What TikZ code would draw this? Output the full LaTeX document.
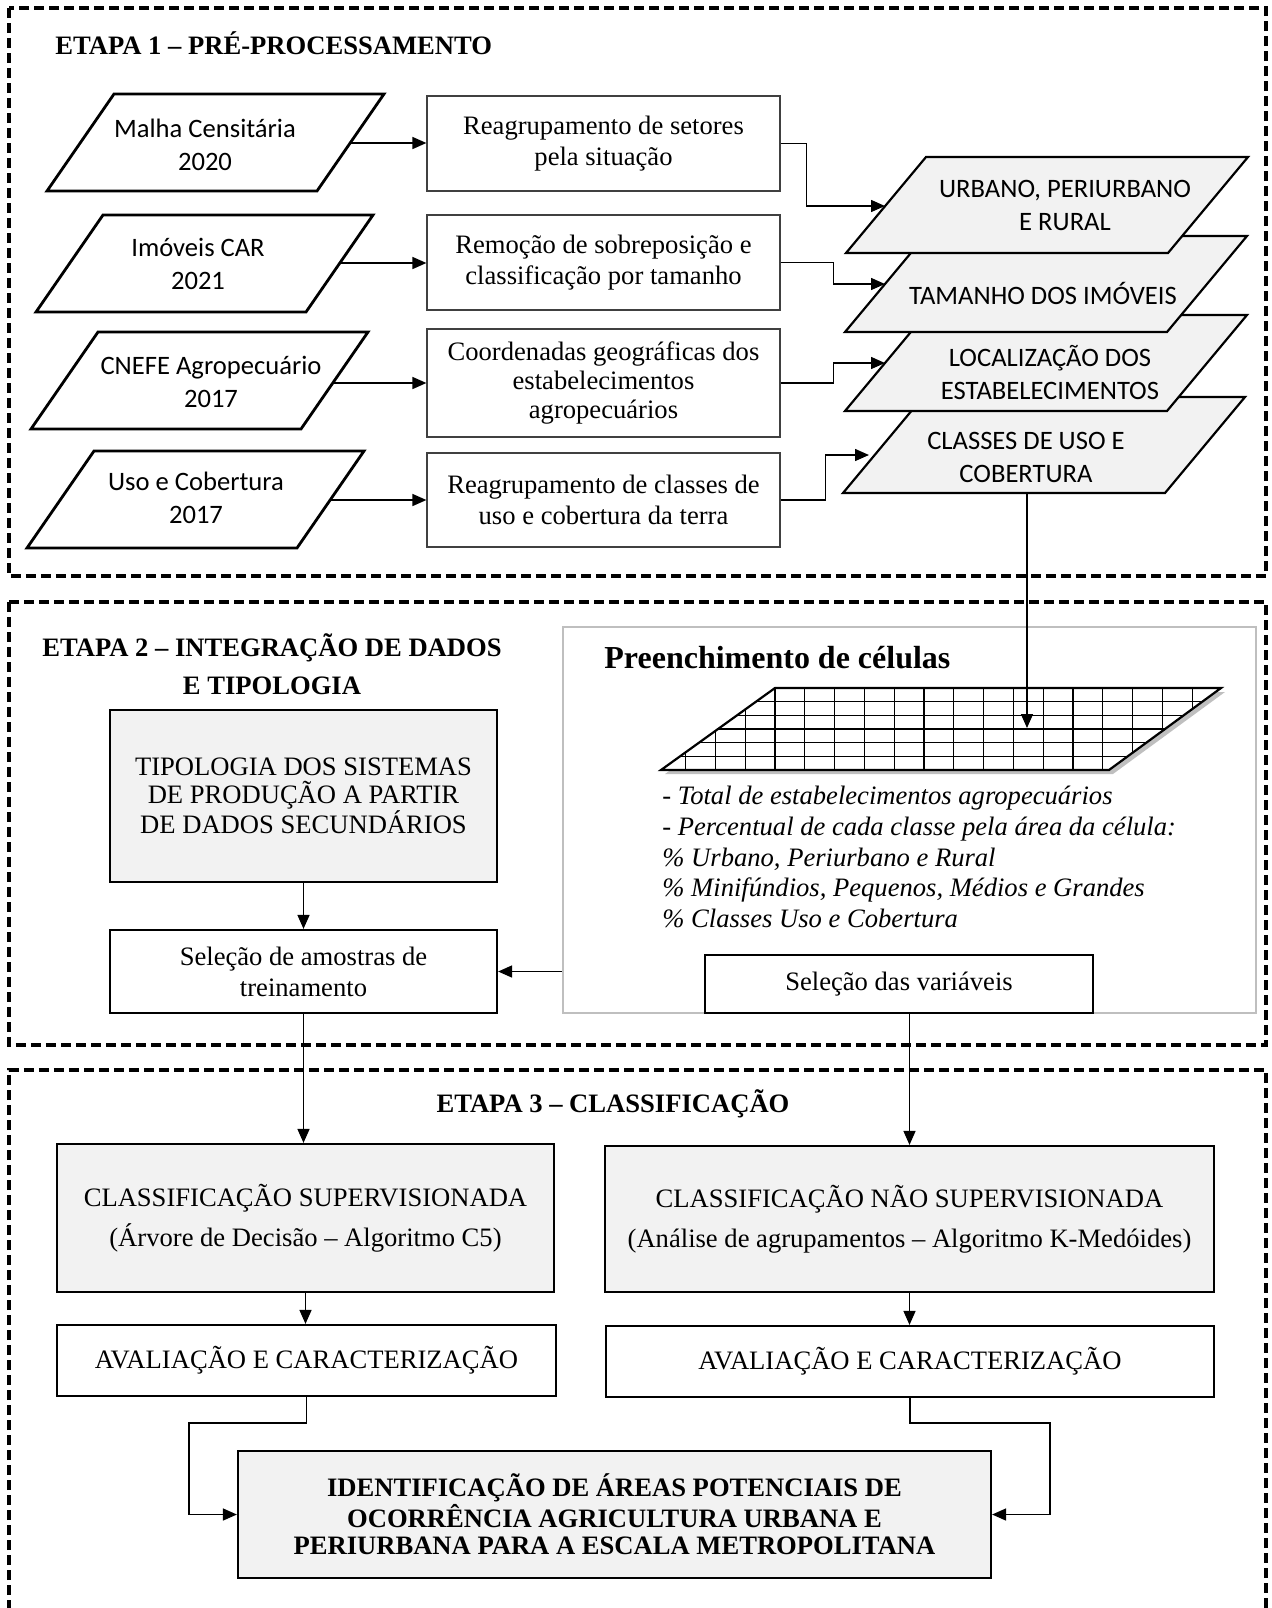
\documentclass[tikz,border=0pt]{standalone}
\usepackage{fontspec}
\setmainfont{Liberation Serif}
\newfontfamily\calibri{Carlito}
\usetikzlibrary{arrows.meta, calc, shadows}
\definecolor{planefill}{HTML}{F2F2F2}

\begin{document}
\begin{tikzpicture}[x=0.5pt, y=-0.5pt,
    every node/.style={font=\fontsize{13.3}{15.4}\selectfont, inner sep=0pt},
    stagebox/.style={line width=1.6pt, dash pattern=on 5pt off 2.5pt},
    stagetitle/.style={font=\fontsize{13.3}{19}\selectfont\bfseries},
    sourceplane/.style={draw, line width=1.4pt, fill=white},
    dataplane/.style={draw, line width=1.1pt, fill=planefill},
    sanstext/.style={font=\fontsize{13.3}{16.5}\selectfont\calibri, align=center},
    procbox/.style={draw=black!75, line width=0.6pt, align=center, minimum width=176.5pt},
    flowbox/.style={draw, line width=1.1pt, align=center},
    greybox/.style={flowbox, fill=planefill},
    flowarrow/.style={line width=0.75pt, -{Triangle[length=7pt, width=6pt]}},
    gridline/.style={line width=0.6pt}
    ]
    \useasboundingbox (0,0) rectangle (1272,1608);

    \draw[stagebox] (9,8) rectangle (1266,576);
    \draw[stagebox] (9,602) rectangle (1266,1045);
    \draw[stagebox] (9,1640) -- (9,1070) -- (1266,1070) -- (1266,1640);

    \node[stagetitle, anchor=west] (etapa1) at (55,43) {ETAPA 1 – PRÉ-PROCESSAMENTO};

    \coordinate (malhaBL) at (47,191);
    \coordinate (imovBL) at (36,312);
    \coordinate (cnefeBL) at (31,429);
    \coordinate (usoBL) at (27,548);
    \foreach \c in {malhaBL, imovBL, cnefeBL, usoBL}
        \draw[sourceplane] (\c) -- ++(270,0) -- ++(67,-97) -- ++(-270,0) -- cycle;

    \node[sanstext] (malha) at (205,145) {Malha Censitária\\2020};
    \node[sanstext] (imov) at (198,264) {Imóveis CAR\\2021};
    \node[sanstext] (cnefe) at (211,382) {CNEFE Agropecuário\\2017};
    \node[sanstext] (uso) at (196,498) {Uso e Cobertura\\2017};

    \coordinate (malhaout) at (350,143);
    \coordinate (imovout) at (340,263);
    \coordinate (cnefeout) at (333,383);
    \coordinate (usoout) at (330,500);

    \node[procbox, minimum height=47.5pt] (reag) at (603.5,143.5) {Reagrupamento de setores\\pela situação};
    \node[procbox, minimum height=47.5pt] (remo) at (603.5,262.5) {Remoção de sobreposição e\\classificação por tamanho};
    \node[procbox, minimum height=54pt, font=\fontsize{13.3}{14.3}\selectfont] (coord) at (603.5,383) {Coordenadas geográficas dos\\estabelecimentos\\agropecuários};
    \node[procbox, minimum height=47pt] (reclass) at (603.5,500) {Reagrupamento de classes de\\uso e cobertura da terra};

    \draw[flowarrow] (malhaout) -- (malhaout -| reag.west);
    \draw[flowarrow] (imovout) -- (imovout -| remo.west);
    \draw[flowarrow] (cnefeout) -- (cnefeout -| coord.west);
    \draw[flowarrow] (usoout) -- (usoout -| reclass.west);

    \coordinate (clsBL) at (843,493);
    \coordinate (locBL) at (845,411);
    \coordinate (tamBL) at (845,332);
    \coordinate (urbBL) at (846,253);
    \foreach \c in {clsBL, locBL, tamBL, urbBL}
        \draw[dataplane] (\c) -- ++(322,0) -- ++(80,-96) -- ++(-322,0) -- cycle;

    \node[sanstext] (urb) at (1065,205) {URBANO, PERIURBANO\\E RURAL};
    \node[sanstext] (tam) at (1043,293) {TAMANHO DOS IMÓVEIS};
    \node[sanstext] (loc) at (1050,372) {LOCALIZAÇÃO DOS\\ESTABELECIMENTOS};
    \node[sanstext] (cls) at (1026,457) {CLASSES DE USO E\\COBERTURA};

    \coordinate (urbin) at (885,206);
    \coordinate (tamin) at (885,284);
    \coordinate (locin) at (885,363);
    \coordinate (clsin) at (869,455);
    \draw[flowarrow] (reag.east) -- ++(26,0) |- (urbin);
    \draw[flowarrow] (remo.east) -- ++(53,0) |- (tamin);
    \draw[flowarrow] (coord.east) -- ++(53,0) |- (locin);
    \draw[flowarrow] (reclass.east) -- ++(45,0) |- (clsin);

    \node[stagetitle, align=center] (etapa2) at (272,664) {ETAPA 2 – INTEGRAÇÃO DE DADOS\\E TIPOLOGIA};
    \node[greybox, minimum width=193.5pt, minimum height=86pt, font=\fontsize{13.3}{13.8}\selectfont] (tipo) at (303.5,796) {TIPOLOGIA DOS SISTEMAS\\DE PRODUÇÃO A PARTIR\\DE DADOS SECUNDÁRIOS};
    \node[flowbox, minimum width=193.5pt, minimum height=41.5pt] (amostra) at (303.5,971.5) {Seleção de amostras de\\treinamento};
    \node[draw=black!25, line width=1.3pt, minimum width=346.5pt, minimum height=193pt] (panel) at (909.5,820) {};
    \node[anchor=west, font=\fontsize{16}{19}\selectfont\bfseries] (preench) at (604,658) {Preenchimento de células};

    \coordinate (gridBL) at (661,770);
    \coordinate (gridBR) at (1109,770);
    \coordinate (gridTR) at (1221,688);
    \coordinate (gridTL) at (775,688);
    \fill[white, drop shadow={shadow xshift=2pt, shadow yshift=-2pt, opacity=0.5}] (gridBL) -- (gridBR) -- (gridTR) -- (gridTL) -- cycle;
    \begin{scope}
        \clip (gridBL) -- (gridBR) -- (gridTR) -- (gridTL) -- cycle;
        \foreach \k in {-3,...,14}
            \draw[gridline] ({775+29.8*\k},688) -- ++(0,82);
        \foreach \j in {1,...,5}
            \draw[gridline] (650,{688+13.67*\j}) -- ++(580,0);
    \end{scope}
    \draw[line width=1.1pt] (gridBL) -- (gridBR) -- (gridTR) -- (gridTL) -- cycle;

    \coordinate (clsout) at (1027,493);
    \coordinate (gridin) at (1027,728);
    \draw[flowarrow] (clsout) -- (gridin);

    \node[anchor=west, align=left, font=\fontsize{13.3}{15.4}\selectfont\itshape] (vars) at (662,857) {- Total de estabelecimentos agropecuários\\- Percentual de cada classe pela área da célula:\\\% Urbano, Periurbano e Rural\\\% Minifúndios, Pequenos, Médios e Grandes\\\% Classes Uso e Cobertura};
    \node[flowbox, minimum width=194pt, minimum height=29pt] (varsel) at (899,984) {Seleção das variáveis};

    \draw[flowarrow] (tipo.south) -- (tipo.south |- amostra.north);
    \draw[flowarrow] (amostra.east -| panel.west) -- (amostra.east);

    \node[stagetitle] (etapa3) at (613,1104) {ETAPA 3 – CLASSIFICAÇÃO};
    \node[greybox, minimum width=248.5pt, minimum height=74pt, font=\fontsize{13.3}{20}\selectfont] (sup) at (305.5,1218) {CLASSIFICAÇÃO SUPERVISIONADA\\(Árvore de Decisão – Algoritmo C5)};
    \node[greybox, minimum width=304.5pt, minimum height=73pt, font=\fontsize{13.3}{20}\selectfont] (nsup) at (909.5,1219) {CLASSIFICAÇÃO NÃO SUPERVISIONADA\\(Análise de agrupamentos – Algoritmo K-Medóides)};
    \node[flowbox, minimum width=249.5pt, minimum height=35.5pt] (aval1) at (306.5,1360.5) {AVALIAÇÃO E CARACTERIZAÇÃO};
    \node[flowbox, minimum width=304pt, minimum height=35.5pt] (aval2) at (910,1361.5) {AVALIAÇÃO E CARACTERIZAÇÃO};
    \node[greybox, minimum width=376.5pt, minimum height=63.5pt, font=\fontsize{13.3}{13.8}\selectfont\bfseries] (final) at (614.5,1514.5) {IDENTIFICAÇÃO DE ÁREAS POTENCIAIS DE\\OCORRÊNCIA AGRICULTURA URBANA E\\PERIURBANA PARA A ESCALA METROPOLITANA};

    \draw[flowarrow] (amostra.south) -- (amostra.south |- sup.north);
    \draw[flowarrow] (varsel.south -| nsup.north) -- (nsup.north);
    \draw[flowarrow] (sup.south) -- (sup.south |- aval1.north);
    \draw[flowarrow] (nsup.south) -- (nsup.south |- aval2.north);

    \coordinate (lbend) at (189,1423);
    \coordinate (rbend) at (1050,1423);
    \draw[flowarrow] (aval1.south) |- (lbend) |- (final.west);
    \draw[flowarrow] (aval2.south) |- (rbend) |- (final.east);
\end{tikzpicture}
\end{document}
